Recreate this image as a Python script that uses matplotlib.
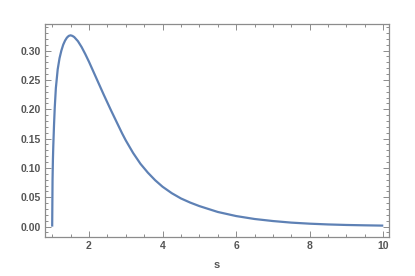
import numpy as np
import matplotlib
matplotlib.use("Agg")
import matplotlib.pyplot as plt
from matplotlib.ticker import MultipleLocator

# values
s = [1.0, 1.01, 1.02, 1.03, 1.05, 1.07, 1.1, 1.15, 1.2, 1.25, 1.3, 1.35, 1.4,
     1.45, 1.5, 1.55, 1.6, 1.7, 1.8, 1.9, 2.0, 2.1, 2.2, 2.3, 2.4, 2.5, 2.6,
     2.7, 2.8, 2.9, 3.0, 3.2, 3.4, 3.6, 3.8, 4.0, 4.25, 4.5, 4.75, 5.0, 5.5,
     6.0, 6.5, 7.0, 7.5, 8.0, 8.5, 9.0, 9.5, 10.0]
p = [0.0, 0.080, 0.114, 0.137, 0.173, 0.203, 0.236, 0.268, 0.287, 0.300,
     0.310, 0.317, 0.322, 0.325, 0.326, 0.325, 0.323, 0.316, 0.306, 0.294,
     0.281, 0.267, 0.253, 0.239, 0.225, 0.2115, 0.198, 0.185, 0.172, 0.159,
     0.147, 0.1255, 0.107, 0.092, 0.079, 0.068, 0.057, 0.048, 0.041, 0.035,
     0.025, 0.018, 0.013, 0.0095, 0.0068, 0.0050, 0.0037, 0.0028, 0.0022,
     0.0017]

LINE = "#5E81B5"
FRAME = "#8c8c8c"
LABEL = "#555555"

fig = plt.figure(figsize=(4.15, 2.76), dpi=100)
ax = fig.add_axes([0.1096, 0.1413, 0.8277, 0.7707])

ax.plot(s, p, color=LINE, linewidth=1.6, solid_capstyle="butt",
        solid_joinstyle="round")

ax.set_xlim(0.818, 10.155)
ax.set_ylim(-0.0177, 0.3448)

ax.xaxis.set_major_locator(MultipleLocator(2))
ax.xaxis.set_minor_locator(MultipleLocator(0.5))
ax.yaxis.set_major_locator(MultipleLocator(0.05))
ax.yaxis.set_minor_locator(MultipleLocator(0.01))
ax.yaxis.set_major_formatter(plt.FormatStrFormatter("%.2f"))

for sp in ax.spines.values():
    sp.set_edgecolor(FRAME)
    sp.set_linewidth(0.9)

ax.tick_params(which="both", direction="in", top=True, right=True,
               color=FRAME, width=0.7)
ax.tick_params(which="major", length=4, pad=3)
ax.tick_params(which="minor", length=2.3)
for lab in ax.get_xticklabels() + ax.get_yticklabels():
    lab.set_family("Liberation Sans")
    lab.set_fontweight("bold")
    lab.set_fontsize(7.5)
    lab.set_color(LABEL)

ax.set_xlabel("s", family="Liberation Sans", fontweight="bold", fontsize=8,
              color=LABEL, labelpad=6)

fig.savefig("out.png", dpi=100)
